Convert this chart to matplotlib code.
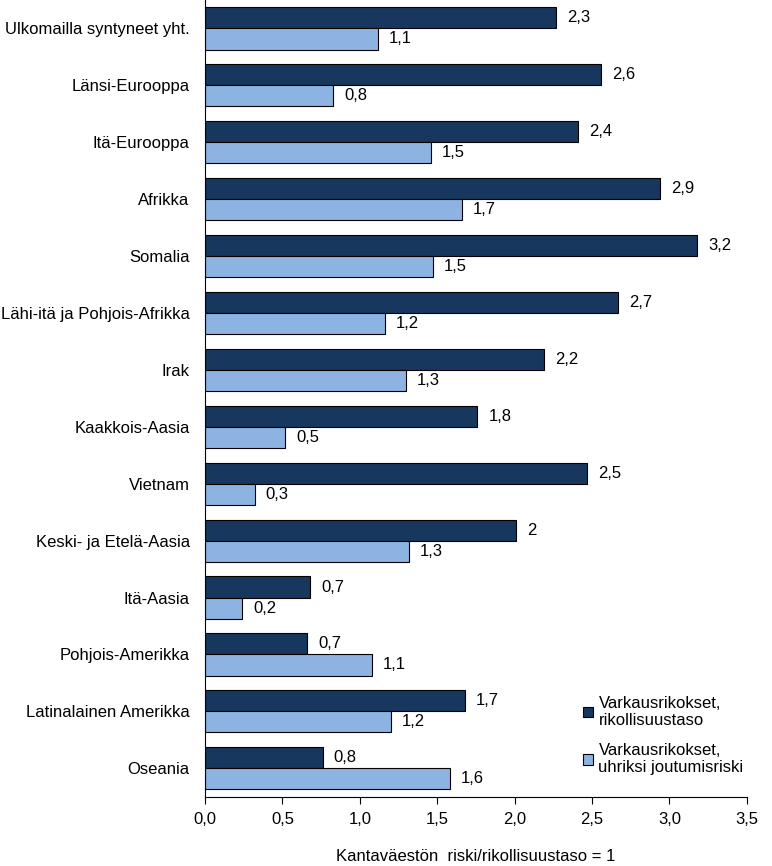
import numpy as np
import matplotlib.pyplot as plt

plt.rcParams['font.family'] = ['Liberation Sans', 'DejaVu Sans']

alueet = ['Ulkomailla syntyneet yht.', 'Länsi-Eurooppa', 'Itä-Eurooppa', 'Afrikka',
          'Somalia', 'Lähi-itä ja Pohjois-Afrikka', 'Irak', 'Kaakkois-Aasia',
          'Vietnam', 'Keski- ja Etelä-Aasia', 'Itä-Aasia', 'Pohjois-Amerikka',
          'Latinalainen Amerikka', 'Oseania']

# rikollisuustaso (tummat palkit)
rikollisuus = [2.27, 2.56, 2.41, 2.94, 3.18, 2.67, 2.19, 1.76, 2.47, 2.01, 0.68, 0.66, 1.68, 0.76]
rikollisuus_txt = ['2,3', '2,6', '2,4', '2,9', '3,2', '2,7', '2,2', '1,8', '2,5', '2', '0,7', '0,7', '1,7', '0,8']

# uhriksi joutumisriski (vaaleat palkit)
uhririski = [1.12, 0.83, 1.46, 1.66, 1.47, 1.16, 1.30, 0.52, 0.32, 1.32, 0.24, 1.08, 1.20, 1.58]
uhririski_txt = ['1,1', '0,8', '1,5', '1,7', '1,5', '1,2', '1,3', '0,5', '0,3', '1,3', '0,2', '1,1', '1,2', '1,6']

tumma = '#17375E'
vaalea = '#8DB3E2'
fs = 12

fig = plt.figure(figsize=(7.72, 8.66), dpi=100)
ax = fig.add_axes([0.2655, 0.08, 0.702, 0.92])

y = np.arange(len(alueet))
h = 0.37
ax.barh(y - h / 2, rikollisuus, height=h, color=tumma, edgecolor='black', linewidth=0.8,
        label='Varkausrikokset,\nrikollisuustaso')
ax.barh(y + h / 2, uhririski, height=h, color=vaalea, edgecolor='black', linewidth=0.8,
        label='Varkausrikokset,\nuhriksi joutumisriski')

# arvot palkkien perään
for i in range(len(alueet)):
    ax.text(rikollisuus[i] + 0.07, y[i] - h / 2, rikollisuus_txt[i], va='center', ha='left', fontsize=fs)
    ax.text(uhririski[i] + 0.07, y[i] + h / 2, uhririski_txt[i], va='center', ha='left', fontsize=fs)

ax.set_xlim(0, 3.5)
ax.set_ylim(len(alueet) - 0.5, -0.5)
ax.set_yticks(y)
ax.set_yticklabels(alueet, fontsize=fs)
ax.tick_params(axis='y', length=0, pad=11)
ax.set_xticks(np.arange(0, 3.51, 0.5))
ax.set_xticklabels([f'{v:.1f}'.replace('.', ',') for v in np.arange(0, 3.51, 0.5)], fontsize=fs)
ax.tick_params(axis='x', length=5, direction='out', pad=6)
ax.spines['top'].set_visible(False)
ax.spines['right'].set_visible(False)

ax.set_xlabel('Kantaväestön  riski/rikollisuustaso = 1', fontsize=fs, labelpad=16)

ax.legend(loc='lower left', bbox_to_anchor=(0.745, 0.095), bbox_transform=fig.transFigure,
          frameon=False, fontsize=fs, handlelength=0.6, handleheight=0.6,
          handletextpad=0.3, labelspacing=0.9, borderpad=0)

fig.savefig('out.png', dpi=100)
